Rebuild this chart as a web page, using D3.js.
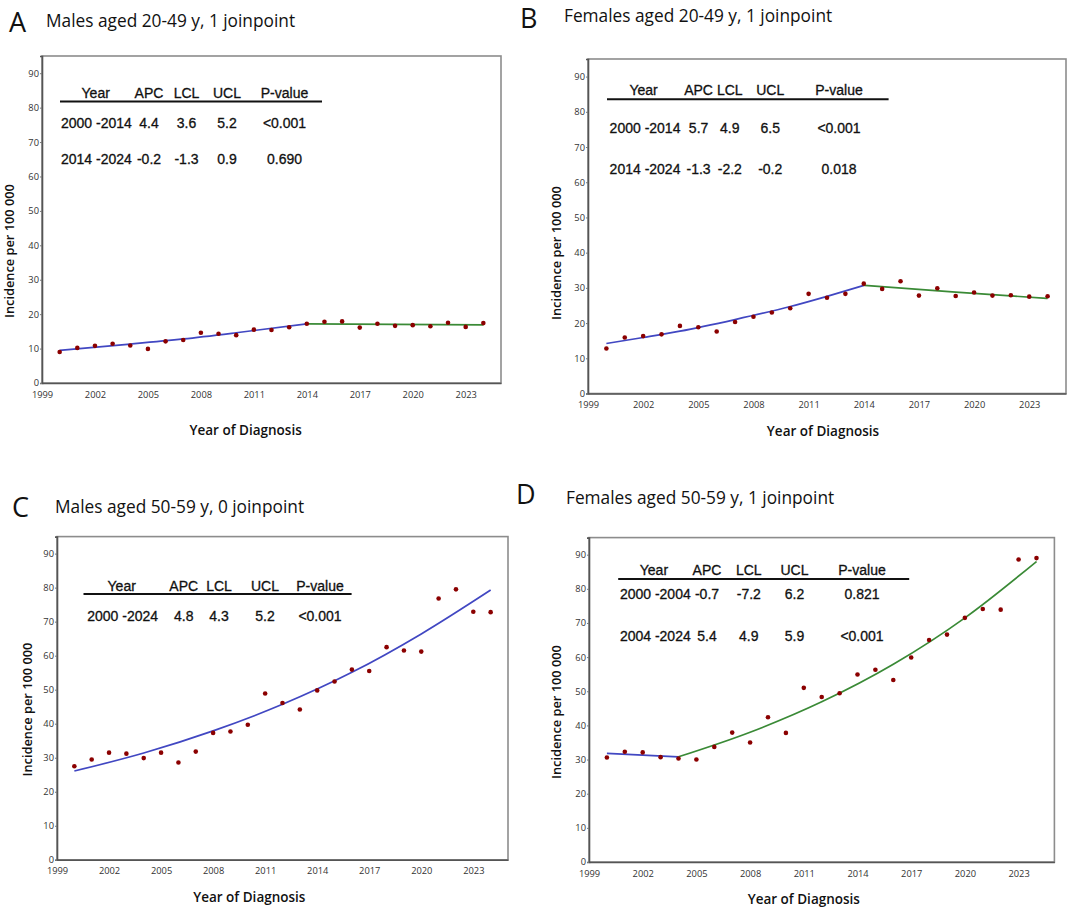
<!DOCTYPE html>
<html>
<head>
<meta charset="utf-8">
<script src="https://cdn.jsdelivr.net/npm/d3@7"></script>
<style>
  body { margin: 0; background: #fff; }
  svg { display: block; }
</style>
</head>
<body>
<div id="chart"></div>
<script>
(function () {
	// ---- data ----
	var years = [2000, 2001, 2002, 2003, 2004, 2005, 2006, 2007, 2008, 2009, 2010, 2011, 2012,
		2013, 2014, 2015, 2016, 2017, 2018, 2019, 2020, 2021, 2022, 2023, 2024];
	var xTicks = [1999, 2002, 2005, 2008, 2011, 2014, 2017, 2020, 2023];
	var yTicks = [0, 10, 20, 30, 40, 50, 60, 70, 80, 90];

	var obsA = [9.0, 10.2, 10.8, 11.4, 10.9, 9.9, 12.1, 12.5, 14.6, 14.3, 13.9, 15.5, 15.4,
		16.2, 17.2, 17.8, 17.9, 16.1, 17.2, 16.6, 16.8, 16.5, 17.5, 16.3, 17.4];
	var obsB = [12.8, 15.9, 16.3, 16.8, 19.2, 18.8, 17.6, 20.3, 21.8, 23.0, 24.2, 28.3, 27.2,
		28.3, 31.2, 29.7, 31.9, 27.8, 29.9, 27.7, 28.7, 27.8, 27.9, 27.5, 27.6];
	var obsC = [27.5, 29.5, 31.5, 31.2, 29.9, 31.5, 28.6, 31.8, 37.3, 37.7, 39.7, 48.9, 46.1,
		44.2, 49.8, 52.4, 55.9, 55.5, 62.5, 61.5, 61.2, 76.8, 79.5, 72.9, 72.8];
	var obsD = [30.6, 32.3, 32.1, 30.7, 30.3, 30.0, 33.7, 37.9, 35.0, 42.4, 37.8, 51.0, 48.3,
		49.4, 54.9, 56.3, 53.3, 59.9, 65.0, 66.6, 71.5, 74.1, 73.9, 88.6, 89.0];

	// fitted joinpoint segments
	var fitA1Years = [2000, 2004, 2007, 2010, 2014], fitA1 = [9.5, 11.3, 12.8, 14.6, 17.2];
	var fitA2Years = [2014, 2024], fitA2 = [17.2, 16.9];
	var fitB1Years = [2000, 2002, 2004, 2007, 2010, 2012, 2014], fitB1 = [14.2, 15.9, 17.7, 21.0, 24.7, 27.6, 30.7];
	var fitB2Years = [2014, 2019, 2024], fitB2 = [30.7, 28.8, 27.0];
	var fitCYears = [2000, 2004, 2008, 2012, 2016, 2020, 2024], fitC = [26.1, 31.4, 37.9, 45.7, 55.1, 66.4, 79.3];
	var fitD1Years = [2000, 2004], fitD1 = [31.8, 30.8];
	var fitD2Years = [2004, 2008, 2012, 2016, 2020, 2024], fitD2 = [30.8, 38.0, 46.9, 57.9, 71.5, 88.0];

	var tableHeader = ['Year', 'APC', 'LCL', 'UCL', 'P-value'];
	var tableA = [['2000 -2014', '4.4', '3.6', '5.2', '<0.001'], ['2014 -2024', '-0.2', '-1.3', '0.9', '0.690']];
	var tableB = [['2000 -2014', '5.7', '4.9', '6.5', '<0.001'], ['2014 -2024', '-1.3', '-2.2', '-0.2', '0.018']];
	var tableC = [['2000 -2024', '4.8', '4.3', '5.2', '<0.001']];
	var tableD = [['2000 -2004', '-0.7', '-7.2', '6.2', '0.821'], ['2004 -2024', '5.4', '4.9', '5.9', '<0.001']];

	var letters = ['A', 'B', 'C', 'D'];
	var titles = ['Males aged 20-49 y, 1 joinpoint', 'Females aged 20-49 y, 1 joinpoint',
		'Males aged 50-59 y, 0 joinpoint', 'Females aged 50-59 y, 1 joinpoint'];

	// ---- styling / layout ----
	var width = 1068, height = 907;
	var colors = {blue: '#4147c2', green: '#3a8a36', dot: '#8b0000'};

	var panels = [
		{obs: obsA, fits: [[fitA1Years, fitA1, colors.blue], [fitA2Years, fitA2, colors.green]], table: tableA,
			box: [42, 501, 56, 383], letterXY: [9, 32], titleXY: [46, 27],
			tbl: {top: 98, line: [60, 322, 101.5], rows: [127.5, 163.6], labelX: 61, cols: [95.7, 149, 186.5, 227, 284.5]},
			xLab: [245.6, 434.5], yLab: [9.5, 251]},
		{obs: obsB, fits: [[fitB1Years, fitB1, colors.blue], [fitB2Years, fitB2, colors.green]], table: tableB,
			box: [588, 1066, 59, 393.5], letterXY: [520, 28], titleXY: [564, 22],
			tbl: {top: 95.4, line: [607, 888.6, 99.2], rows: [132.8, 174.3], labelX: 609.6, cols: [643.6, 698.6, 729.8, 770.2, 839]},
			xLab: [823, 435.5], yLab: [557, 253]},
		{obs: obsC, fits: [[fitCYears, fitC, colors.blue]], table: tableC,
			box: [57, 508, 536.6, 859.8], letterXY: [12, 517], titleXY: [55, 513],
			tbl: {top: 590.7, line: [83.5, 351.6, 594], rows: [620.8], labelX: 87.2, cols: [121.7, 183.7, 219, 265, 320]},
			xLab: [249.3, 901.5], yLab: [28, 709.5]},
		{obs: obsD, fits: [[fitD1Years, fitD1, colors.blue], [fitD2Years, fitD2, colors.green]], table: tableD,
			box: [589, 1054.4, 537.6, 862], letterXY: [516, 504], titleXY: [566, 504],
			tbl: {top: 575, line: [618.2, 909.2, 579.1], rows: [598.7, 640.6], labelX: 619.9, cols: [653.9, 707, 748.8, 794.5, 862]},
			xLab: [803.8, 903.5], yLab: [557, 712]}
	];

	var svg = d3.select('#chart').append('svg')
		.attr('width', width).attr('height', height);

	panels.forEach(function (p, i) {
		var g = svg.append('g');
		var x = d3.scaleLinear().domain([1999, 2025]).range([p.box[0], p.box[1]]);
		var y = d3.scaleLinear().domain([0, 95]).range([p.box[3], p.box[2]]);

		// panel letter and title
		g.append('text')
			.attr('x', p.letterXY[0]).attr('y', p.letterXY[1])
			.attr('font-family', '"Open Sans", sans-serif').attr('font-size', 27)
			.attr('fill', '#111').text(letters[i]);
		g.append('text')
			.attr('x', p.titleXY[0]).attr('y', p.titleXY[1])
			.attr('font-family', '"Open Sans", sans-serif').attr('font-size', 17.3)
			.attr('fill', '#111').text(titles[i]);

		// frame
		g.append('rect')
			.attr('x', p.box[0]).attr('y', p.box[2])
			.attr('width', p.box[1] - p.box[0]).attr('height', p.box[3] - p.box[2])
			.attr('fill', 'none').attr('stroke', '#8c8c8c').attr('stroke-width', 1.6);

		// axes
		var xAxis = g.append('g')
			.attr('transform', 'translate(0,' + p.box[3] + ')')
			.call(d3.axisBottom(x).tickValues(xTicks).tickFormat(d3.format('d')).tickSize(0).tickPadding(8));
		var yAxis = g.append('g')
			.attr('transform', 'translate(' + p.box[0] + ',0)')
			.call(d3.axisLeft(y).tickValues(yTicks).tickSize(2).tickPadding(1));
		[xAxis, yAxis].forEach(function (ax) {
			ax.select('.domain').attr('stroke', '#555').attr('stroke-width', 1.6);
			ax.selectAll('.tick line').attr('stroke', '#777');
			ax.selectAll('.tick text')
				.attr('font-family', '"Open Sans", sans-serif').attr('font-size', 9.3).attr('fill', '#333');
		});

		// model lines
		var line = d3.line()
			.x(function (d) { return x(d[0]); })
			.y(function (d) { return y(d[1]); })
			.curve(d3.curveMonotoneX);
		p.fits.forEach(function (f) {
			g.append('path')
				.datum(d3.zip(f[0], f[1]))
				.attr('d', line)
				.attr('fill', 'none')
				.attr('stroke', f[2])
				.attr('stroke-width', 1.7);
		});

		// observed points
		g.selectAll('.pt')
			.data(d3.zip(years, p.obs)).enter().append('circle')
			.attr('class', 'pt')
			.attr('cx', function (d) { return x(d[0]); })
			.attr('cy', function (d) { return y(d[1]); })
			.attr('r', 2.3)
			.attr('fill', colors.dot);

		// APC table
		var t = p.tbl;
		var tf = '"Liberation Sans", Arial, sans-serif';
		g.selectAll('.hdr')
			.data(tableHeader).enter().append('text')
			.attr('x', function (d, j) { return t.cols[j]; })
			.attr('y', t.top)
			.attr('text-anchor', 'middle')
			.attr('font-family', tf).attr('font-size', 14).attr('fill', '#111')
			.attr('stroke', '#111').attr('stroke-width', 0.3)
			.text(function (d) { return d; });
		g.append('line')
			.attr('x1', t.line[0]).attr('x2', t.line[1])
			.attr('y1', t.line[2]).attr('y2', t.line[2])
			.attr('stroke', '#111').attr('stroke-width', 2);
		p.table.forEach(function (row, r) {
			g.selectAll('.row' + r)
				.data(row).enter().append('text')
				.attr('x', function (d, j) { return j === 0 ? t.labelX : t.cols[j]; })
				.attr('y', t.rows[r])
				.attr('text-anchor', function (d, j) { return j === 0 ? 'start' : 'middle'; })
				.attr('font-family', tf).attr('font-size', 14).attr('fill', '#111')
				.attr('stroke', '#111').attr('stroke-width', 0.3)
				.text(function (d) { return d; });
		});

		// axis titles
		g.append('text')
			.attr('x', p.xLab[0]).attr('y', p.xLab[1])
			.attr('text-anchor', 'middle')
			.attr('font-family', '"Open Sans", sans-serif').attr('font-size', 13.5).attr('font-weight', 600)
			.attr('fill', '#111').text('Year of Diagnosis');
		g.append('text')
			.attr('transform', 'translate(' + p.yLab[0] + ',' + p.yLab[1] + ')rotate(-90)')
			.attr('text-anchor', 'middle').attr('dy', '0.35em')
			.attr('font-family', '"Open Sans", sans-serif').attr('font-size', 12.8).attr('font-weight', 600)
			.attr('fill', '#111').text('Incidence per 100 000');
	});
})();
</script>
</body>
</html>
